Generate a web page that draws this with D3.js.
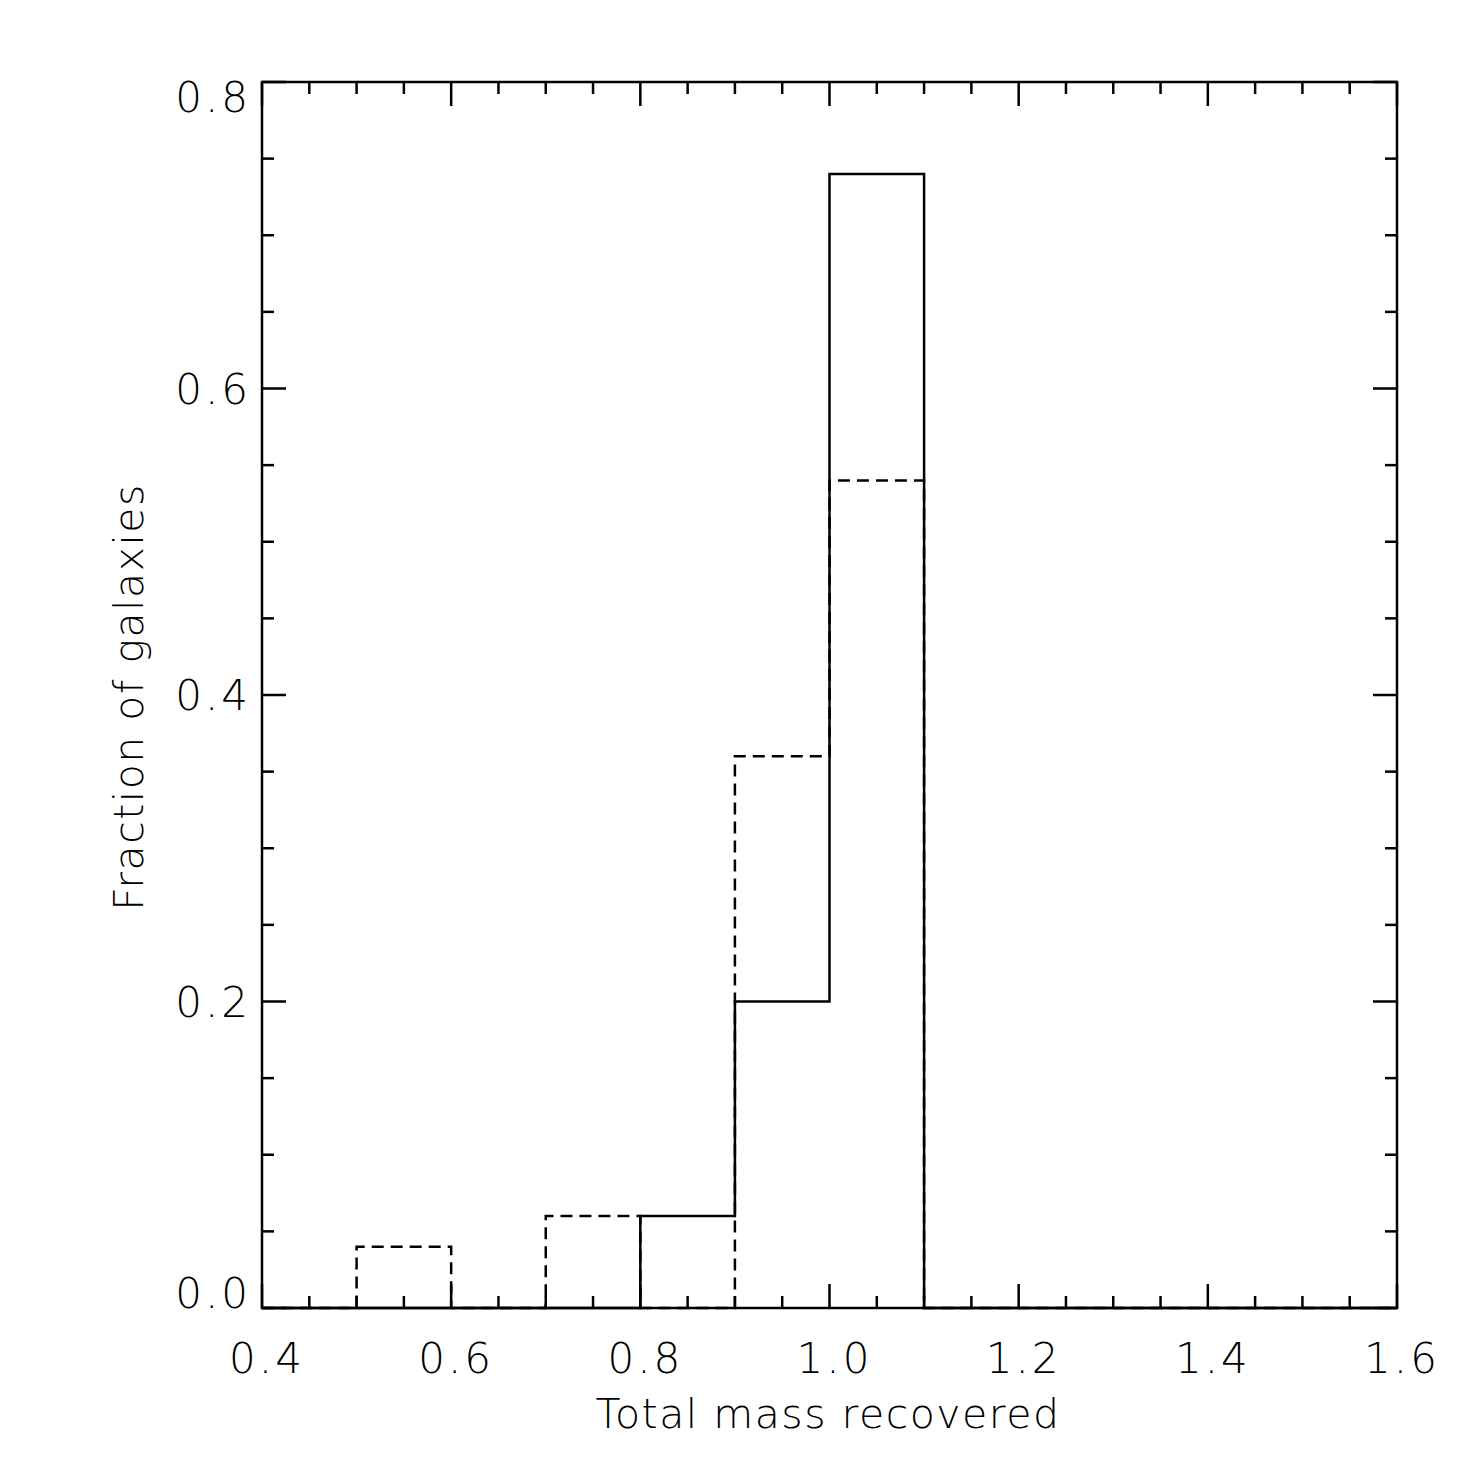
<!DOCTYPE html>
<html><head><meta charset="utf-8">
<script src="https://cdn.jsdelivr.net/npm/d3@7/dist/d3.min.js"></script>
<style>body{margin:0;background:#fff}svg{display:block}text{font-family:"DejaVu Sans",sans-serif;font-weight:200;fill:#000}</style>
</head><body><svg id="c" width="1475" height="1475"></svg>
<script>
const binEdges = [0.4,0.5,0.6,0.7,0.8,0.9,1.0,1.1,1.2,1.3,1.4,1.5,1.6];
const solidValues = [0,0,0,0,0.06,0.20,0.74,0,0,0,0,0];
const dashedValues = [0,0.04,0,0.06,0,0.36,0.54,0,0,0,0,0];
const xTickLabels = ["0.4","0.6","0.8","1.0","1.2","1.4","1.6"];
const yTickLabels = ["0.0","0.2","0.4","0.6","0.8"];
const xTitle = "Total mass recovered";
const yTitle = "Fraction of galaxies";

const L=262,R=1397,T=82,B=1308;
const svg=d3.select("#c");
const x=d3.scaleLinear().domain([0.4,1.6]).range([L,R]);
const y=d3.scaleLinear().domain([0,0.8]).range([B,T]);
const SW=2.5;

function pts(vals){const p=[];vals.forEach((v,i)=>{p.push([binEdges[i],v]);p.push([binEdges[i+1],v]);});return p;}
const line=d3.line().x(d=>x(d[0])).y(d=>y(d[1]));
svg.append("path").attr("d",line(pts(dashedValues))).attr("fill","none").attr("stroke","#000").attr("stroke-width",SW).attr("stroke-dasharray","12,7");
svg.append("path").attr("d",line(pts(solidValues))).attr("fill","none").attr("stroke","#000").attr("stroke-width",SW);

svg.append("rect").attr("x",L).attr("y",T).attr("width",R-L).attr("height",B-T).attr("fill","none").attr("stroke","#000").attr("stroke-width",SW);

const g=svg.append("g").attr("stroke","#000").attr("stroke-width",SW);
const xMinor=d3.range(0,25).map(i=>0.4+i*0.05);
xMinor.forEach((v,i)=>{const len=(i%4===0)?24:12;const px=x(+v.toFixed(3));
  g.append("line").attr("x1",px).attr("x2",px).attr("y1",B).attr("y2",B-len);
  g.append("line").attr("x1",px).attr("x2",px).attr("y1",T).attr("y2",T+len);});
const yMinor=d3.range(0,17).map(i=>i*0.05);
yMinor.forEach((v,i)=>{const len=(i%4===0)?24:12;const py=y(+v.toFixed(3));
  g.append("line").attr("y1",py).attr("y2",py).attr("x1",L).attr("x2",L+len);
  g.append("line").attr("y1",py).attr("y2",py).attr("x1",R).attr("x2",R-len);});

xTickLabels.forEach(s=>{svg.append("text").attr("x",x(+s)+5).attr("y",1373).attr("text-anchor","middle").attr("font-size",42).attr("letter-spacing",3).text(s);});
yTickLabels.forEach(s=>{let cy=Math.min(B-15,Math.max(T+15,y(+s)));
  svg.append("text").attr("x",251).attr("y",cy+15).attr("text-anchor","end").attr("font-size",42).attr("letter-spacing",3).text(s);});

svg.append("text").attr("x",828).attr("y",1428).attr("text-anchor","middle").attr("font-size",41).attr("letter-spacing",1.5).text(xTitle);
svg.append("text").attr("transform","translate(143,697) rotate(-90)").attr("text-anchor","middle").attr("font-size",41).attr("letter-spacing",1.5).text(yTitle);
</script></body></html>
